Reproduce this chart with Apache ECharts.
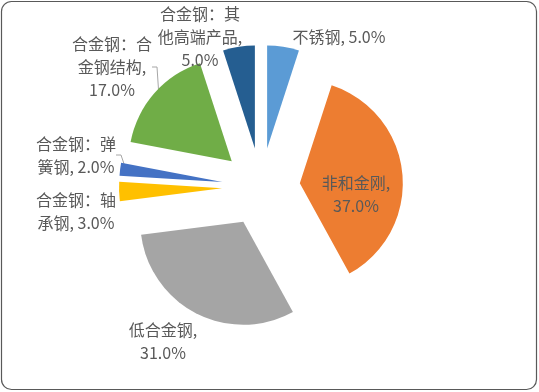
<!DOCTYPE html>
<html><head><meta charset="utf-8">
<script src="https://cdn.jsdelivr.net/npm/echarts@6/dist/echarts.min.js"></script>
<style>html,body{margin:0;padding:0;background:#fff}#c{width:539px;height:392px}</style>
</head><body><div id="c"></div>
<script>
const categories = ['不锈钢','非和金刚','低合金钢','合金钢：轴承钢','合金钢：弹簧钢','合金钢：合金钢结构','合金钢：其他高端产品'];
const values = [5, 37, 31, 3, 2, 17, 5];
const labelTexts = ['不锈钢, {p}', '非和金刚,\n{p}', '低合金钢,\n{p}', '合金钢：轴\n承钢, {p}', '合金钢：弹\n簧钢, {p}', '合金钢：合\n金钢结构,\n{p}', '合金钢：其\n他高端产品,\n{p}'];
const colors = ['#5B9BD5','#ED7D31','#A5A5A5','#FFC000','#4472C4','#70AD47','#255E91'];
const labelPos = [[339,37],[356,194],[163,341],[76,211],[76,155],[112,67],[200,37]];
const showLine = [false,false,false,false,true,true,false];

const CENTER = [261,187], R = 103, OFFSET = 39;
const chart = echarts.init(document.getElementById('c'), null, {renderer:'canvas'});
chart.setOption({
  animation:false,
  graphic:[{type:'rect', shape:{x:1.5,y:1.5,width:535,height:388,r:10}, style:{fill:'none',stroke:'#595959',lineWidth:1.2}, z:100}],
  series:[{
    type:'pie',
    center:CENTER,
    radius:R,
    startAngle:90,
    clockwise:true,
    selectedMode:'multiple',
    selectedOffset:OFFSET,
    emphasis:{disabled:true},
    itemStyle:{borderWidth:0},
    label:{show:false},
    labelLine:{show:false},
    data:categories.map((n,i)=>({name:n, value:values[i], selected:true, itemStyle:{color:colors[i]}}))
  },{
    type:'pie',
    center:CENTER,
    radius:R+OFFSET-6,
    startAngle:90,
    clockwise:true,
    silent:true,
    selectedMode:false,
    avoidLabelOverlap:false,
    emphasis:{disabled:true},
    itemStyle:{color:'rgba(0,0,0,0)', borderWidth:0},
    label:{
      show:true, position:'outside',
      color:'#595959', fontSize:16, lineHeight:23, align:'center',
      fontFamily:'"Noto Sans CJK SC", sans-serif',
      formatter:(p)=>labelTexts[p.dataIndex].replace('{p}', p.value.toFixed(1)+'%')
    },
    labelLine:{show:false, length:5, length2:5, lineStyle:{color:'#A6A6A6',width:1}},
    labelLayout:(params)=>{
      const q = labelPos[params.dataIndex];
      return {x:q[0], y:q[1], align:'center', verticalAlign:'middle'};
    },
    data:categories.map((n,i)=>({name:n, value:values[i], labelLine:{show:showLine[i]}}))
  }]
});
</script></body></html>
